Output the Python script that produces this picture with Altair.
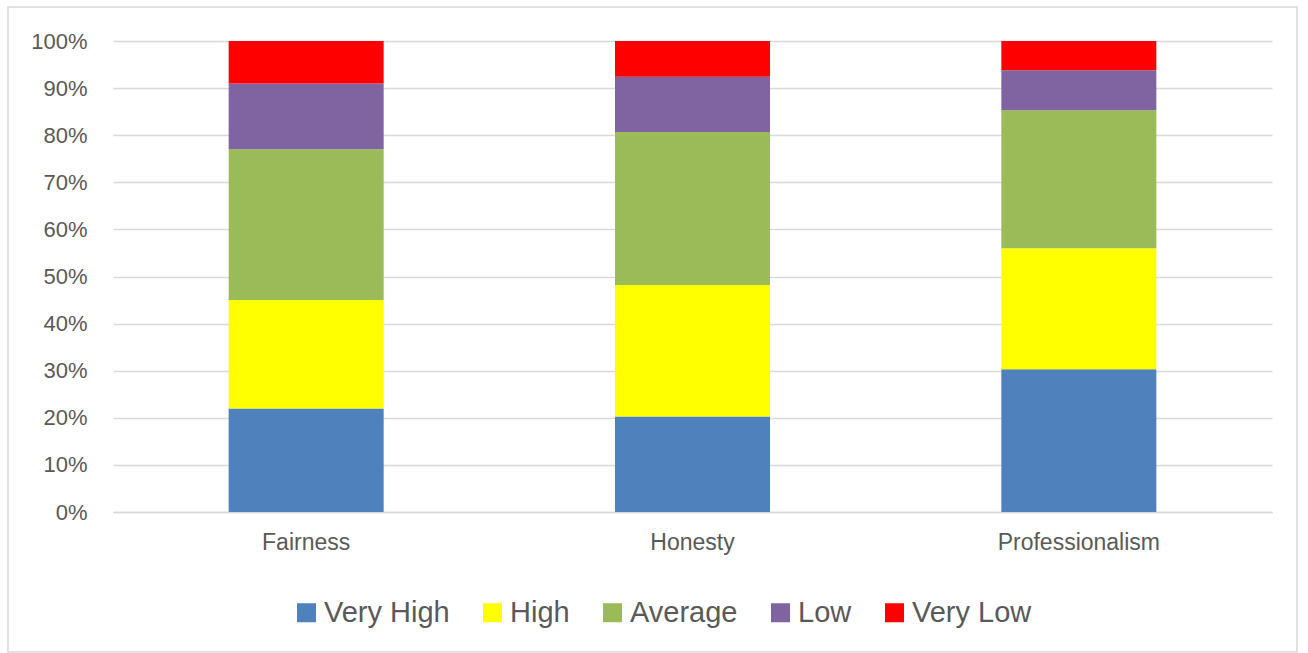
import altair as alt
import pandas as pd

# Survey ratings per attribute (percent of respondents, each column sums to 100)
categories = ["Fairness", "Honesty", "Professionalism"]
levels = ["Very High", "High", "Average", "Low", "Very Low"]
very_high = [22.0, 20.3, 30.3]
high = [23.0, 27.9, 25.7]
average = [32.0, 32.5, 29.3]
low = [14.0, 11.7, 8.5]
very_low = [9.0, 7.6, 6.2]
level_colors = ["#4F81BD", "#FFFF00", "#9BBB59", "#8064A2", "#FF0000"]

series = [very_high, high, average, low, very_low]
rows = []
for rank, (level, values) in enumerate(zip(levels, series)):
    for cat, v in zip(categories, values):
        rows.append({"category": cat, "level": level, "rank": rank, "share": v})
df = pd.DataFrame(rows)

FONT = "Liberation Sans"
TEXT = "#595959"
GRID = "#D9D9D9"

bars = alt.Chart(df).mark_bar(size=155).encode(
    x=alt.X(
        "category:N",
        sort=categories,
        scale=alt.Scale(paddingInner=0.6, paddingOuter=0.3),
        axis=alt.Axis(
            title=None, labelAngle=0, ticks=False, domain=True,
            domainColor=GRID, domainWidth=1.5,
            labelFont=FONT, labelFontSize=23, labelColor=TEXT, labelPadding=19,
        ),
    ),
    y=alt.Y(
        "share:Q",
        stack="zero",
        scale=alt.Scale(domain=[0, 100], nice=False),
        axis=alt.Axis(
            title=None, values=list(range(0, 101, 10)),
            labelExpr="datum.value + '%'",
            ticks=False, domain=False, grid=True,
            gridColor=GRID, gridWidth=1.5,
            labelFont=FONT, labelFontSize=22, labelColor=TEXT, labelPadding=26,
        ),
    ),
    color=alt.Color(
        "level:N",
        scale=alt.Scale(domain=levels, range=level_colors),
        legend=alt.Legend(
            title=None, orient="none", direction="horizontal",
            legendX=179, legendY=557,
            symbolType="square", symbolSize=361, symbolStrokeWidth=0,
            labelFont=FONT, labelFontSize=29, labelColor=TEXT,
            labelOffset=3, columnPadding=28,
        ),
    ),
    order=alt.Order("rank:Q"),
)

# Light frame around the whole figure
frame = alt.Chart(alt.Data(values=[{}])).mark_rect(
    fillOpacity=0, stroke=GRID, strokeWidth=1.5
).encode(
    x=alt.value(-105), x2=alt.value(1184),
    y=alt.value(-34), y2=alt.value(611),
)

chart = alt.layer(frame, bars).properties(
    width=1159,
    height=471,
    padding={"left": 113, "top": 41, "right": 36, "bottom": 141},
    autosize=alt.AutoSizeParams(type="none"),
    background="white",
).configure_view(stroke=None)

chart.save("out.html", embed_options={"renderer": "svg", "actions": False})
